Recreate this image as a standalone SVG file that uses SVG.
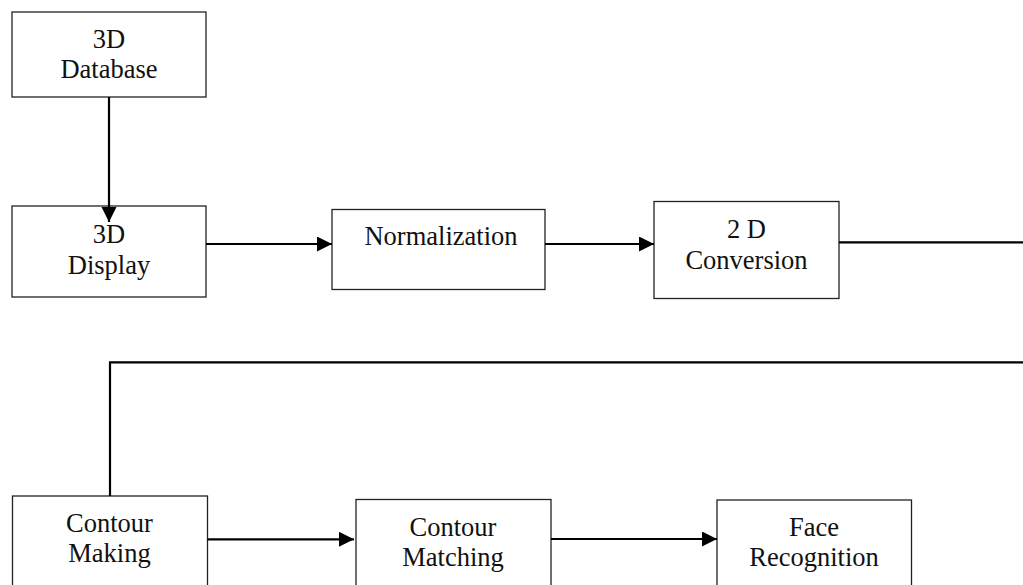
<svg xmlns="http://www.w3.org/2000/svg" width="1023" height="585" viewBox="0 0 1023 585">
<style>
.box{fill:#fff;stroke:#222;stroke-width:1.3}
.lbl{font-family:"Liberation Serif","Times New Roman",serif;font-size:26.5px;fill:#111;text-anchor:middle}
.conn{fill:none;stroke:#000;stroke-width:2.2}
</style>
<defs>
<marker id="arr" markerUnits="userSpaceOnUse" markerWidth="16" markerHeight="16" refX="15" refY="7.5" orient="auto">
<path d="M0,0 L15,7.5 L0,15 z" fill="#000"/>
</marker>
</defs>
<rect width="1023" height="585" fill="#fff"/>
<g id="n-database"><rect class="box" x="12" y="12" width="194" height="85"/><text class="lbl" x="109" y="47.5">3D</text><text class="lbl" x="109" y="78">Database</text></g>
<g id="n-display"><rect class="box" x="12" y="206" width="194" height="91"/><text class="lbl" x="109" y="243">3D</text><text class="lbl" x="109" y="274">Display</text></g>
<g id="n-normalization"><rect class="box" x="332" y="209.5" width="213" height="80"/><text class="lbl" x="441" y="245">Normalization</text></g>
<g id="n-conversion"><rect class="box" x="654" y="201.5" width="185" height="97"/><text class="lbl" x="746.5" y="238">2 D</text><text class="lbl" x="746.5" y="269">Conversion</text></g>
<g id="n-contour-making"><rect class="box" x="12.5" y="496" width="195" height="100"/><text class="lbl" x="109.5" y="532">Contour</text><text class="lbl" x="109.5" y="562">Making</text></g>
<g id="n-contour-matching"><rect class="box" x="356" y="499.5" width="195" height="100"/><text class="lbl" x="453" y="536">Contour</text><text class="lbl" x="453" y="565.5">Matching</text></g>
<g id="n-face"><rect class="box" x="717" y="500" width="194.5" height="100"/><text class="lbl" x="814" y="535.5">Face</text><text class="lbl" x="814" y="566">Recognition</text></g>
<g id="connectors">
<line class="conn" x1="109" y1="97" x2="109" y2="222" marker-end="url(#arr)"/>
<line class="conn" x1="206" y1="244" x2="332" y2="244" marker-end="url(#arr)"/>
<line class="conn" x1="545" y1="244" x2="654" y2="244" marker-end="url(#arr)"/>
<line class="conn" x1="839" y1="242.3" x2="1023" y2="242.3"/>
<polyline class="conn" points="1023,362.3 110,362.3 110,496"/>
<line class="conn" x1="207.5" y1="539.3" x2="354" y2="539.3" marker-end="url(#arr)"/>
<line class="conn" x1="551" y1="539" x2="717" y2="539" marker-end="url(#arr)"/>
</g>
</svg>
